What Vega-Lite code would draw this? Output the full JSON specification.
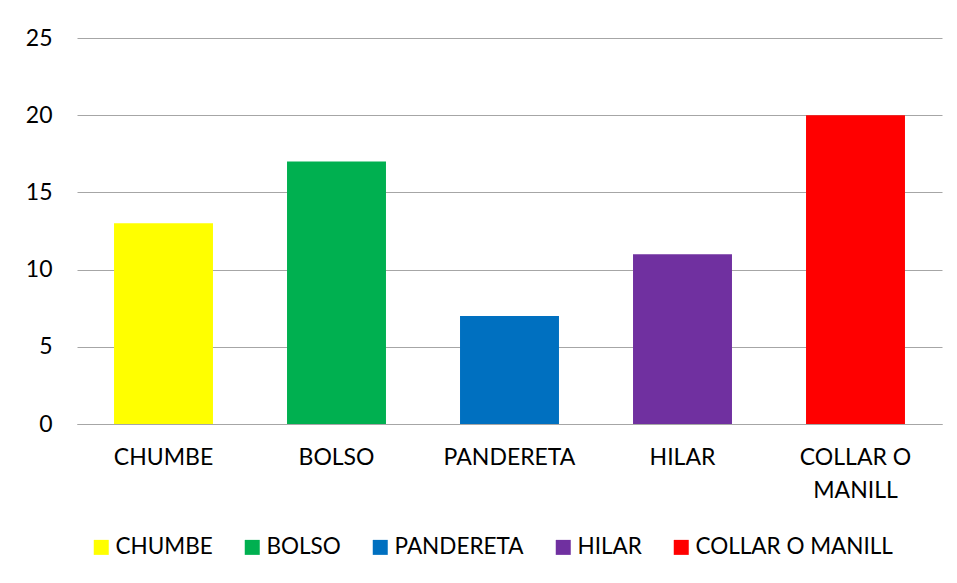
{
  "$schema": "https://vega.github.io/schema/vega-lite/v6.json",
  "width": 865,
  "height": 386,
  "autosize": "none",
  "padding": {"left": 77, "top": 38, "right": 15, "bottom": 159},
  "background": "white",
  "config": {
    "view": {"stroke": null},
    "font": "Lato",
    "axis": {"labelFont": "Lato", "labelFontSize": 23, "labelColor": "#000000"},
    "legend": {"labelFont": "Lato", "labelFontSize": 22.5, "labelColor": "#000000", "labelLimit": 400}
  },
  "data": {
    "values": [
      {"categoria": "CHUMBE", "valor": 13},
      {"categoria": "BOLSO", "valor": 17},
      {"categoria": "PANDERETA", "valor": 7},
      {"categoria": "HILAR", "valor": 11},
      {"categoria": "COLLAR O MANILL", "valor": 20}
    ]
  },
  "mark": {"type": "bar"},
  "encoding": {
    "x": {
      "field": "categoria",
      "type": "nominal",
      "sort": null,
      "scale": {"paddingInner": 0.428, "paddingOuter": 0.214},
      "axis": {
        "title": null,
        "labelAngle": 0,
        "ticks": false,
        "domainColor": "#a6a6a6",
        "domainWidth": 1,
        "labelPadding": 22,
        "labelBaseline": "top",
        "labelLineHeight": 33,
        "labelExpr": "datum.label == 'COLLAR O MANILL' ? ['COLLAR O', 'MANILL'] : datum.label"
      }
    },
    "y": {
      "field": "valor",
      "type": "quantitative",
      "scale": {"domain": [0, 25], "nice": false},
      "axis": {
        "title": null,
        "values": [0, 5, 10, 15, 20, 25],
        "domain": false,
        "ticks": false,
        "labelPadding": 25,
        "gridColor": "#a6a6a6",
        "gridWidth": 1
      }
    },
    "color": {
      "field": "categoria",
      "type": "nominal",
      "sort": null,
      "scale": {
        "domain": ["CHUMBE", "BOLSO", "PANDERETA", "HILAR", "COLLAR O MANILL"],
        "range": ["#FFFF00", "#00B050", "#0070C0", "#7030A0", "#FF0000"]
      },
      "legend": {
        "title": null,
        "orient": "none",
        "direction": "horizontal",
        "legendX": 13,
        "legendY": 498,
        "symbolType": "square",
        "symbolSize": 225,
        "symbolStrokeWidth": 0,
        "symbolOpacity": 1,
        "labelOffset": 3,
        "columnPadding": 28,
        "symbolOffset": 0
      }
    }
  }
}
